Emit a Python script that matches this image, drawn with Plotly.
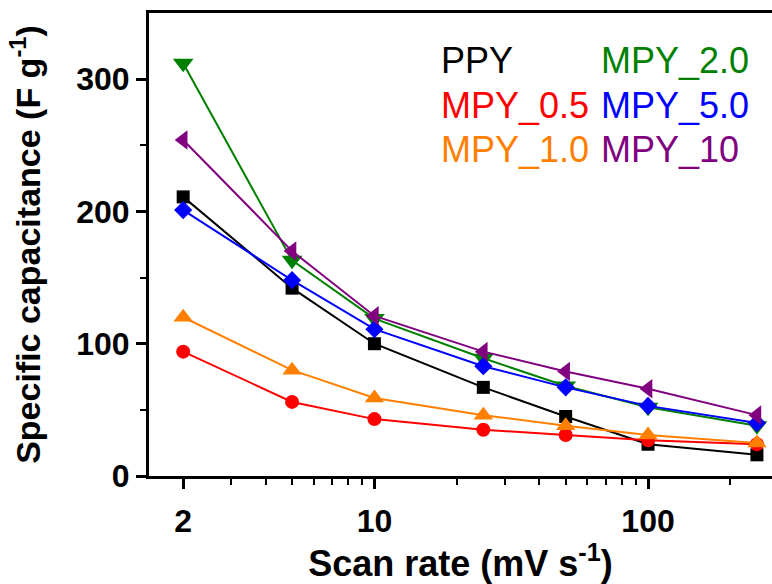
import plotly.graph_objects as go

scan_rate = [2, 5, 10, 25, 50, 100, 250]

series_names = ["PPY", "MPY_0.5", "MPY_1.0", "MPY_2.0", "MPY_5.0", "MPY_10"]
ppy = [211, 142, 100, 67, 45, 24, 16]
mpy_05 = [94, 56, 43, 35, 31, 27, 24]
mpy_10 = [120, 80, 59, 46, 38, 31, 25]
mpy_20 = [312, 163, 119, 89, 68, 52, 38]
mpy_50 = [201, 148, 111, 83, 67, 53, 40]
mpy_10x = [254, 170, 121, 94, 79, 66, 46]

values = [ppy, mpy_05, mpy_10, mpy_20, mpy_50, mpy_10x]
colors = ["#000000", "#FF0000", "#FF8000", "#008000", "#0000FF", "#800080"]
symbols = ["square", "circle", "triangle-up", "triangle-down", "diamond", "triangle-left"]
sizes = [13, 14, 17, 18, 14, 17]

x_major = [2, 10, 100]
x_minor = [3, 4, 5, 6, 7, 8, 9, 20, 30, 40, 50, 60, 70, 80, 90, 200]
y_major = [0, 100, 200, 300]
y_minor = [50, 150, 250]

fig = go.Figure()
for name, vals, c, s, sz in zip(series_names, values, colors, symbols, sizes):
    fig.add_trace(go.Scatter(
        x=scan_rate, y=vals, name=name, mode="lines+markers",
        line=dict(color=c, width=2),
        marker=dict(symbol=s, size=sz, color=c, line=dict(width=0)),
        showlegend=False, cliponaxis=False,
    ))

# text-only legend
leg_pos = [(0.466, 0.898), (0.466, 0.801), (0.466, 0.706),
           (0.722, 0.898), (0.722, 0.801), (0.722, 0.706)]
for name, c, (px, py) in zip(series_names, colors, leg_pos):
    fig.add_annotation(text=name, x=px, y=py, xref="paper", yref="paper",
                       xanchor="left", yanchor="middle", showarrow=False,
                       font=dict(family="Liberation Sans, Arial", size=36, color=c))

fig.update_layout(
    width=772, height=584,
    margin=dict(l=149, r=0, t=13, b=108),
    plot_bgcolor="white", paper_bgcolor="white",
    font=dict(family="Liberation Sans, Arial", color="black"),
)
fig.update_xaxes(
    type="log", range=[0.1761, 2.453],
    tickvals=x_major, ticktext=[str(v) for v in x_major],
    ticks="outside", ticklen=10, tickwidth=2.5, tickcolor="black",
    minor=dict(tickvals=x_minor, ticks="outside", ticklen=6, tickwidth=2, tickcolor="black"),
    showline=True, linewidth=3, linecolor="black", mirror=True,
    showgrid=False, zeroline=False,
    tickfont=dict(size=32, weight="bold"), ticklabelstandoff=5,
    title=dict(text="Scan rate (mV s<sup>-1</sup>)", font=dict(size=36, weight="bold"), standoff=6),
)
fig.update_yaxes(
    range=[0, 350],
    tickvals=y_major, ticktext=[str(v) for v in y_major],
    ticks="outside", ticklen=10, tickwidth=2.5, tickcolor="black",
    minor=dict(tickvals=y_minor, ticks="outside", ticklen=6, tickwidth=2, tickcolor="black"),
    showline=True, linewidth=3, linecolor="black", mirror=False,
    showgrid=False, zeroline=False,
    tickfont=dict(size=32, weight="bold"),
    title=dict(text="Specific capacitance (F g<sup>-1</sup>)", font=dict(size=34, weight="bold"), standoff=26),
)

fig.write_html("out.html")
